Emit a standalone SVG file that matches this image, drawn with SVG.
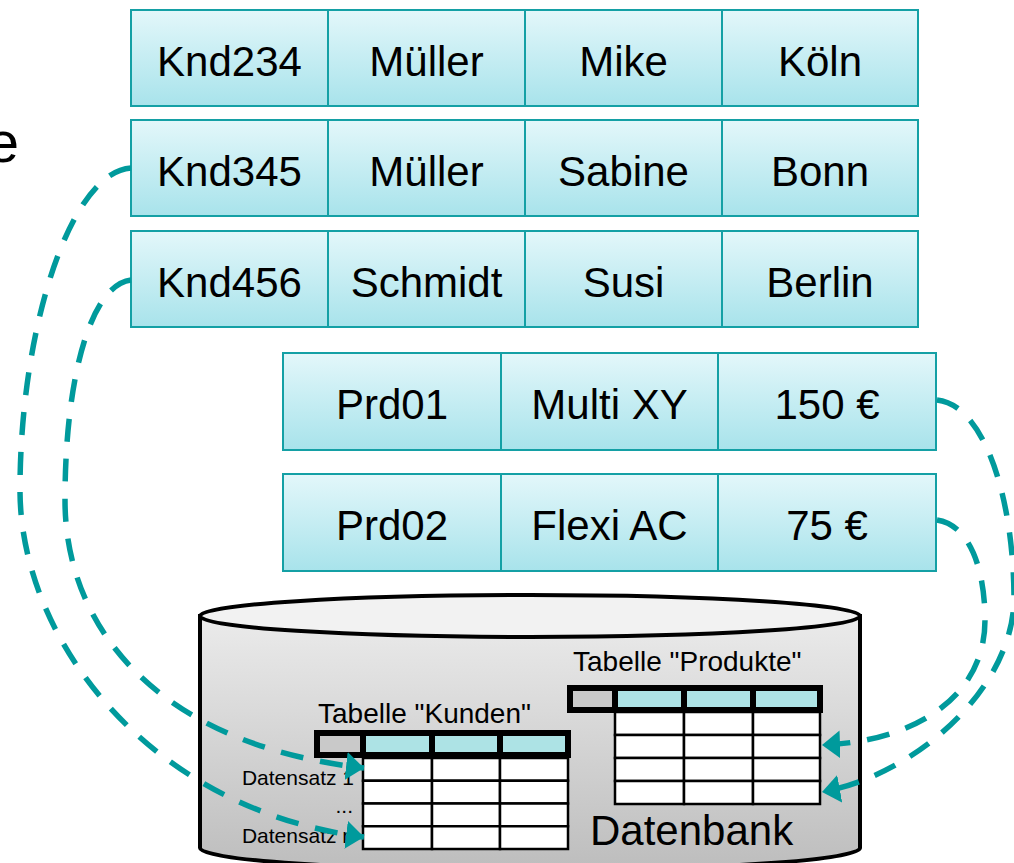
<svg xmlns="http://www.w3.org/2000/svg" width="1014" height="863" viewBox="0 0 1014 863">
<defs>
<linearGradient id="cellGrad" x1="0" y1="0" x2="0" y2="1">
<stop offset="0" stop-color="#e3f7fa"/>
<stop offset="1" stop-color="#a8e3eb"/>
</linearGradient>
<linearGradient id="cylGrad" x1="0" y1="0" x2="0" y2="1">
<stop offset="0" stop-color="#ebebeb"/>
<stop offset="1" stop-color="#bdbdbd"/>
</linearGradient>
<marker id="arr" markerUnits="userSpaceOnUse" markerWidth="20" markerHeight="30" refX="18" refY="14" orient="auto">
<polygon points="0,0 18,14 0,28" fill="#009a9c"/>
</marker>
<style>
.cell{fill:url(#cellGrad);stroke:#14a0a5;stroke-width:2}
.ct{font-family:"Liberation Sans",Arial,sans-serif;font-size:42px;fill:#000;text-anchor:middle}
.lbl{font-family:"Liberation Sans",Arial,sans-serif;fill:#000}
.hdr{fill:#ade3e5;stroke:#000;stroke-width:6}
.hdrg{fill:#c9c9c9;stroke:#000;stroke-width:6}
.body{fill:#fff;stroke:#000;stroke-width:2.5}
.conn{fill:none;stroke:#009a9c;stroke-width:5.5;stroke-dasharray:23 17}
</style>
</defs>
<rect width="1014" height="863" fill="#fff"/>
<text class="lbl" x="19" y="162" font-size="58" text-anchor="end">e</text>

<g id="row-knd234">
<rect class="cell" x="131" y="10" width="197" height="96"/>
<rect class="cell" x="328" y="10" width="197" height="96"/>
<rect class="cell" x="525" y="10" width="197" height="96"/>
<rect class="cell" x="722" y="10" width="196" height="96"/>
<text class="ct" x="229.5" y="76">Knd234</text>
<text class="ct" x="426.5" y="76">Müller</text>
<text class="ct" x="623.5" y="76">Mike</text>
<text class="ct" x="820" y="76">Köln</text>
</g>
<g id="row-knd345">
<rect class="cell" x="131" y="120" width="197" height="96"/>
<rect class="cell" x="328" y="120" width="197" height="96"/>
<rect class="cell" x="525" y="120" width="197" height="96"/>
<rect class="cell" x="722" y="120" width="196" height="96"/>
<text class="ct" x="229.5" y="186">Knd345</text>
<text class="ct" x="426.5" y="186">Müller</text>
<text class="ct" x="623.5" y="186">Sabine</text>
<text class="ct" x="820" y="186">Bonn</text>
</g>
<g id="row-knd456">
<rect class="cell" x="131" y="231" width="197" height="96"/>
<rect class="cell" x="328" y="231" width="197" height="96"/>
<rect class="cell" x="525" y="231" width="197" height="96"/>
<rect class="cell" x="722" y="231" width="196" height="96"/>
<text class="ct" x="229.5" y="297">Knd456</text>
<text class="ct" x="426.5" y="297">Schmidt</text>
<text class="ct" x="623.5" y="297">Susi</text>
<text class="ct" x="820" y="297">Berlin</text>
</g>
<g id="row-prd01">
<rect class="cell" x="283" y="353" width="218" height="97"/>
<rect class="cell" x="501" y="353" width="217" height="97"/>
<rect class="cell" x="718" y="353" width="218" height="97"/>
<text class="ct" x="392" y="419">Prd01</text>
<text class="ct" x="609.5" y="419">Multi XY</text>
<text class="ct" x="827" y="419">150 €</text>
</g>
<g id="row-prd02">
<rect class="cell" x="283" y="474" width="218" height="97"/>
<rect class="cell" x="501" y="474" width="217" height="97"/>
<rect class="cell" x="718" y="474" width="218" height="97"/>
<text class="ct" x="392" y="540">Prd02</text>
<text class="ct" x="609.5" y="540">Flexi AC</text>
<text class="ct" x="827" y="540">75 €</text>
</g>

<g id="datenbank">
<path d="M200,616 L200,848 A330,22 0 0 0 860,848 L860,616 Z" fill="url(#cylGrad)" stroke="#000" stroke-width="4"/>
<ellipse cx="530" cy="616" rx="330" ry="21" fill="#f2f2f2" stroke="#000" stroke-width="4"/>
<text class="lbl" x="590" y="845" font-size="42">Datenbank</text>
</g>

<g id="tabelle-kunden">
<text class="lbl" x="318" y="723" font-size="28">Tabelle "Kunden"</text>
<rect class="hdrg" x="317" y="733" width="46" height="22"/>
<rect class="hdr" x="363" y="733" width="69" height="22"/>
<rect class="hdr" x="432" y="733" width="68" height="22"/>
<rect class="hdr" x="500" y="733" width="68" height="22"/>
<g class="body">
<rect x="363" y="758" width="69" height="22.75"/><rect x="432" y="758" width="68" height="22.75"/><rect x="500" y="758" width="68" height="22.75"/>
<rect x="363" y="780.75" width="69" height="22.75"/><rect x="432" y="780.75" width="68" height="22.75"/><rect x="500" y="780.75" width="68" height="22.75"/>
<rect x="363" y="803.5" width="69" height="22.75"/><rect x="432" y="803.5" width="68" height="22.75"/><rect x="500" y="803.5" width="68" height="22.75"/>
<rect x="363" y="826.25" width="69" height="22.75"/><rect x="432" y="826.25" width="68" height="22.75"/><rect x="500" y="826.25" width="68" height="22.75"/>
</g>
<text class="lbl" x="354" y="785" font-size="21" text-anchor="end">Datensatz 1</text>
<text class="lbl" x="353" y="813" font-size="21" text-anchor="end">...</text>
<text class="lbl" x="354" y="843" font-size="21" text-anchor="end">Datensatz n</text>
</g>

<g id="tabelle-produkte">
<text class="lbl" x="573" y="671" font-size="28">Tabelle "Produkte"</text>
<rect class="hdrg" x="570" y="688" width="45" height="22"/>
<rect class="hdr" x="615" y="688" width="69" height="22"/>
<rect class="hdr" x="684" y="688" width="69" height="22"/>
<rect class="hdr" x="753" y="688" width="67" height="22"/>
<g class="body">
<rect x="615" y="712" width="69" height="23"/><rect x="684" y="712" width="69" height="23"/><rect x="753" y="712" width="67" height="23"/>
<rect x="615" y="735" width="69" height="23"/><rect x="684" y="735" width="69" height="23"/><rect x="753" y="735" width="67" height="23"/>
<rect x="615" y="758" width="69" height="23"/><rect x="684" y="758" width="69" height="23"/><rect x="753" y="758" width="67" height="23"/>
<rect x="615" y="781" width="69" height="23"/><rect x="684" y="781" width="69" height="23"/><rect x="753" y="781" width="67" height="23"/>
</g>
</g>

<g id="connectors">
<path class="conn" marker-end="url(#arr)" d="M131,168 C70,172 20,330 20,490 C20,640 150,810 364,837"/>
<path class="conn" marker-end="url(#arr)" d="M131,280 C90,285 65,380 65,500 C65,630 160,745 364,768"/>
<path class="conn" marker-end="url(#arr)" d="M937,400 C985,405 1014,500 1014,600 C1012,690 915,775 822,792"/>
<path class="conn" marker-end="url(#arr)" d="M937,520 C970,525 985,570 985,620 C985,700 910,742 822,745"/>
</g>
</svg>
